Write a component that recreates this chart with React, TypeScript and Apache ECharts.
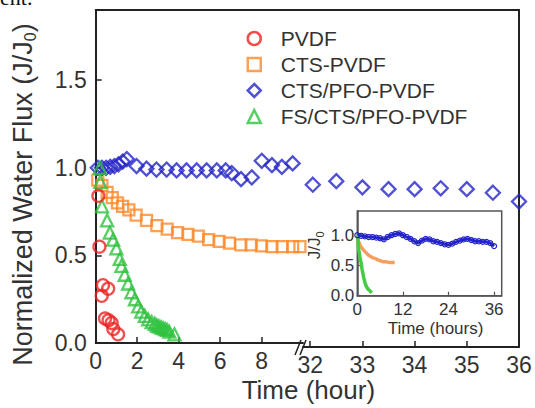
import React, { useEffect, useRef } from 'react';
import * as echarts from 'echarts';

const FONT = '"Liberation Sans", Arial, Helvetica, sans-serif';
const TEXT = '#333333';
const FRAME = '#222222';

const RED = '#ee2222';
const ORANGE = '#ff8a2a';
const BLUE = '#2424c8';
const GREEN = '#2ec23e';

const seriesNames = ['PVDF', 'CTS-PVDF', 'CTS/PFO-PVDF', 'FS/CTS/PFO-PVDF'];

const xTicksLeft = [0, 2, 4, 6, 8];
const xTicksRight = [32, 33, 34, 35, 36];
const yTicks = [0, 0.5, 1.0, 1.5];
const insetXTicks = [0, 12, 24, 36];
const insetYTicks = [0, 0.5, 1.0];

// PVDF (red circles)
const pvdfTime = [0.13, 0.18, 0.29, 0.35, 0.6, 0.45, 0.62, 0.77, 0.85, 1.08];
const pvdfFlux = [0.84, 0.55, 0.27, 0.33, 0.31, 0.14, 0.13, 0.115, 0.08, 0.05];

// CTS-PVDF (orange squares)
const ctsTime = [0.1, 0.3, 0.55, 0.8, 1.05, 1.3, 1.6, 1.95, 2.45, 2.95, 3.45, 3.95, 4.45, 4.95, 5.45, 5.95, 6.45, 7.0, 7.5, 8.0, 8.5, 9.0, 9.5, 9.85];
const ctsFlux = [0.93, 0.9, 0.86, 0.83, 0.8, 0.78, 0.76, 0.73, 0.7, 0.67, 0.65, 0.63, 0.62, 0.61, 0.59, 0.58, 0.57, 0.56, 0.56, 0.555, 0.55, 0.55, 0.55, 0.55];

// CTS/PFO-PVDF (blue diamonds), left segment 0-10 h
const pfoTimeA = [0.1, 0.3, 0.5, 0.7, 0.9, 1.1, 1.3, 1.5, 1.97, 2.45, 2.93, 3.42, 3.9, 4.38, 4.87, 5.35, 5.84, 6.27, 6.56, 7.01, 7.53, 8.01, 8.5, 8.98, 9.5];
const pfoFluxA = [1.0, 1.0, 1.0, 1.005, 1.01, 1.02, 1.035, 1.05, 1.01, 0.995, 0.99, 0.99, 0.985, 0.985, 0.985, 0.985, 0.985, 0.985, 0.97, 0.935, 0.945, 1.04, 1.015, 1.005, 1.025];
// right segment 32-36 h
const pfoTimeB = [32.05, 32.5, 33, 33.5, 34, 34.5, 35, 35.5, 36];
const pfoFluxB = [0.915, 0.935, 0.9, 0.89, 0.89, 0.895, 0.89, 0.87, 0.82];

// FS/CTS/PFO-PVDF (green triangles)
const fsTime = [0.2, 0.22, 0.3, 0.55, 0.68, 0.84, 1.0, 1.16, 1.24, 1.4, 1.56, 1.72, 1.89, 2.05, 2.2, 2.37, 2.53, 2.7, 2.85, 2.95, 3.05, 3.15, 3.25, 3.35, 3.45, 3.55, 3.8];
const fsFlux = [1.0, 0.92, 0.78, 0.7, 0.63, 0.59, 0.54, 0.48, 0.44, 0.39, 0.34, 0.29, 0.25, 0.21, 0.18, 0.155, 0.135, 0.12, 0.11, 0.1, 0.095, 0.09, 0.085, 0.08, 0.075, 0.065, 0.05];

// Inset: full 36 h record of CTS/PFO-PVDF
const insetPfoTime = [0, 1, 2, 3, 4, 5, 6, 7, 8, 9, 10, 11, 12, 13, 14, 15, 16, 17, 18, 19, 20, 21, 22, 23, 24, 25, 26, 27, 28, 29, 30, 31, 32, 33, 34, 35, 36];
const insetPfoFlux = [1.0, 0.99, 0.98, 0.97, 0.97, 0.96, 0.95, 0.93, 0.97, 1.0, 1.02, 1.03, 1.0, 0.97, 0.94, 0.9, 0.87, 0.91, 0.94, 0.93, 0.9, 0.89, 0.87, 0.85, 0.84, 0.86, 0.89, 0.91, 0.93, 0.94, 0.92, 0.9, 0.9, 0.89, 0.89, 0.87, 0.82];

const pairs = (t: number[], v: number[]) => t.map((x, i) => [x, v[i]]);

const hollow = (c: string) => ({ color: 'rgba(255,255,255,0)', borderColor: c, borderWidth: 2.3 });

function buildOption() {
  const labelStyle = { fontSize: 23, color: TEXT, fontFamily: FONT };
  const insetLabel = { fontSize: 17, color: TEXT, fontFamily: FONT };
  const frameLine = { show: true, onZero: false, lineStyle: { color: FRAME, width: 2 } };
  const insetLine = { show: true, onZero: false, lineStyle: { color: '#555', width: 1.5 } };
  return {
    animation: false,
    backgroundColor: '#ffffff',
    textStyle: { fontFamily: FONT },
    grid: [
      { left: 95.7, top: 10, width: 207.3, height: 337 },
      { left: 303, top: 10, width: 216, height: 337 },
      { left: 357.3, top: 211, width: 144.4, height: 84.7, show: true, backgroundColor: '#fff', borderColor: '#555', borderWidth: 1.5 },
    ],
    legend: {
      data: seriesNames,
      orient: 'vertical',
      left: 246.5,
      top: 28,
      padding: 0,
      itemWidth: 13,
      itemHeight: 13,
      itemGap: 5,
      textStyle: { fontSize: 21, color: TEXT, fontFamily: FONT, padding: [0, 0, 0, 15] },
      itemStyle: { borderWidth: 2.5 },
    },
    xAxis: [
      {
        gridIndex: 0, type: 'value', min: 0, max: 10, position: 'bottom',
        axisLine: frameLine,
        axisTick: { show: true, inside: true, length: 6, customValues: xTicksLeft, lineStyle: { color: FRAME, width: 1.5 } },
        axisLabel: { show: true, customValues: xTicksLeft, margin: 6, ...labelStyle },
        splitLine: { show: false },
        name: 'Time (hour)', nameLocation: 'middle', nameGap: 33,
        nameTextStyle: { fontSize: 26, color: TEXT, fontFamily: FONT, padding: [0, 0, 0, 218] },
      },
      {
        gridIndex: 1, type: 'value', min: 31.862, max: 36, position: 'bottom',
        axisLine: frameLine,
        axisTick: { show: true, inside: true, length: 6, customValues: xTicksRight, lineStyle: { color: FRAME, width: 1.5 } },
        axisLabel: { show: true, customValues: xTicksRight, margin: 6, ...labelStyle },
        splitLine: { show: false },
      },
      {
        gridIndex: 0, type: 'value', min: 0, max: 10, position: 'top',
        axisLine: frameLine, axisTick: { show: false }, axisLabel: { show: false }, splitLine: { show: false },
      },
      {
        gridIndex: 1, type: 'value', min: 31.862, max: 36, position: 'top',
        axisLine: frameLine, axisTick: { show: false }, axisLabel: { show: false }, splitLine: { show: false },
      },
      {
        gridIndex: 2, type: 'value', min: 0, max: 38, position: 'bottom',
        axisLine: insetLine,
        axisTick: { show: true, inside: true, length: 4, customValues: insetXTicks, lineStyle: { color: '#555', width: 1.2 } },
        axisLabel: { show: true, customValues: insetXTicks, margin: 5, ...insetLabel },
        splitLine: { show: false },
        name: 'Time (hours)', nameLocation: 'middle', nameGap: 24,
        nameTextStyle: { fontSize: 17, color: TEXT, fontFamily: FONT, padding: [0, 0, 0, 12] },
      },
    ],
    yAxis: [
      {
        gridIndex: 0, type: 'value', min: 0, max: 1.9,
        axisLine: frameLine,
        axisTick: { show: true, inside: true, length: 6, customValues: yTicks, lineStyle: { color: FRAME, width: 1.5 } },
        axisLabel: { show: true, customValues: yTicks, margin: 9, formatter: (v: number) => v.toFixed(1), ...labelStyle },
        splitLine: { show: false },
        name: '{a|Normalized Water Flux (J/J}{s|0}{a|)}',
        nameLocation: 'middle', nameGap: 57,
        nameTextStyle: {
          color: TEXT, fontSize: 27, fontFamily: FONT, padding: [0, 36, 0, 0],
          rich: {
            a: { fontSize: 27, color: TEXT, fontFamily: FONT, lineHeight: 32, verticalAlign: 'middle' },
            s: { fontSize: 16, color: TEXT, fontFamily: FONT, verticalAlign: 'bottom' },
          },
        },
      },
      {
        gridIndex: 1, type: 'value', min: 0, max: 1.9, position: 'right',
        axisLine: frameLine, axisTick: { show: false }, axisLabel: { show: false }, splitLine: { show: false },
      },
      {
        gridIndex: 2, type: 'value', min: 0, max: 1.4,
        axisLine: insetLine,
        axisTick: { show: true, inside: true, length: 4, customValues: insetYTicks, lineStyle: { color: '#555', width: 1.2 } },
        axisLabel: { show: true, customValues: insetYTicks, margin: 3, formatter: (v: number) => v.toFixed(1), ...insetLabel },
        splitLine: { show: false },
        name: '{a|J/J}{s|0}',
        nameLocation: 'middle', nameGap: 32,
        nameTextStyle: {
          color: TEXT, fontSize: 17, fontFamily: FONT, padding: [0, 0, 0, 16],
          rich: {
            a: { fontSize: 17, color: TEXT, fontFamily: FONT, lineHeight: 22, verticalAlign: 'middle' },
            s: { fontSize: 11, color: TEXT, fontFamily: FONT, verticalAlign: 'bottom' },
          },
        },
      },
    ],
    series: [
      {
        name: 'PVDF', type: 'scatter', xAxisIndex: 0, yAxisIndex: 0, symbol: 'circle', symbolSize: 12,
        itemStyle: hollow(RED), data: pairs(pvdfTime, pvdfFlux), z: 4,
      },
      {
        name: 'CTS-PVDF', type: 'scatter', xAxisIndex: 0, yAxisIndex: 0, symbol: 'rect', symbolSize: 11,
        itemStyle: hollow(ORANGE), data: pairs(ctsTime, ctsFlux), z: 3,
      },
      {
        name: 'CTS/PFO-PVDF', type: 'scatter', xAxisIndex: 0, yAxisIndex: 0, symbol: 'diamond', symbolSize: 14,
        itemStyle: hollow(BLUE), data: pairs(pfoTimeA, pfoFluxA), z: 3,
      },
      {
        name: 'FS/CTS/PFO-PVDF', type: 'scatter', xAxisIndex: 0, yAxisIndex: 0, symbol: 'triangle', symbolSize: 12,
        itemStyle: hollow(GREEN), data: pairs(fsTime, fsFlux), z: 3,
      },
      {
        name: 'CTS/PFO-PVDF', type: 'scatter', xAxisIndex: 1, yAxisIndex: 1, symbol: 'diamond', symbolSize: 14,
        itemStyle: hollow(BLUE), data: pairs(pfoTimeB, pfoFluxB), z: 3,
      },
      {
        name: 'inset CTS/PFO-PVDF', type: 'line', xAxisIndex: 4, yAxisIndex: 2, data: pairs(insetPfoTime, insetPfoFlux),
        symbol: 'circle', symbolSize: 5, showSymbol: true,
        lineStyle: { color: BLUE, width: 3 }, itemStyle: { color: 'rgba(255,255,255,0)', borderColor: BLUE, borderWidth: 1.2 }, z: 5,
      },
      {
        name: 'inset CTS-PVDF', type: 'line', xAxisIndex: 4, yAxisIndex: 2, data: pairs(ctsTime, ctsFlux),
        symbol: 'none', lineStyle: { color: '#f5a060', width: 3.5 }, z: 5,
      },
      {
        name: 'inset FS/CTS/PFO-PVDF', type: 'line', xAxisIndex: 4, yAxisIndex: 2, data: pairs(fsTime, fsFlux),
        symbol: 'none', lineStyle: { color: '#44cc44', width: 3.5 }, z: 5,
      },
    ],
    graphic: [
      { type: 'line', shape: { x1: 295, y1: 355, x2: 301, y2: 340 }, style: { stroke: FRAME, lineWidth: 1.5 }, z: 10 },
      { type: 'line', shape: { x1: 300, y1: 355, x2: 306, y2: 340 }, style: { stroke: FRAME, lineWidth: 1.5 }, z: 10 },
      {
        type: 'text', x: 0, y: 8,
        style: { text: 'ent.', fontSize: 22, fontFamily: '"Liberation Serif", serif', fill: '#111', align: 'left', verticalAlign: 'bottom' },
      },
    ],
  };
}

export default function App() {
  const ref = useRef<HTMLDivElement>(null);
  useEffect(() => {
    if (!ref.current) return;
    const chart = echarts.init(ref.current, null, { renderer: 'svg' });
    chart.setOption(buildOption() as any);
    return () => chart.dispose();
  }, []);
  return (
    <div
      ref={ref}
      style={{ position: 'absolute', left: 0, top: 0, width: 535, height: 408 }}
    />
  );
}
